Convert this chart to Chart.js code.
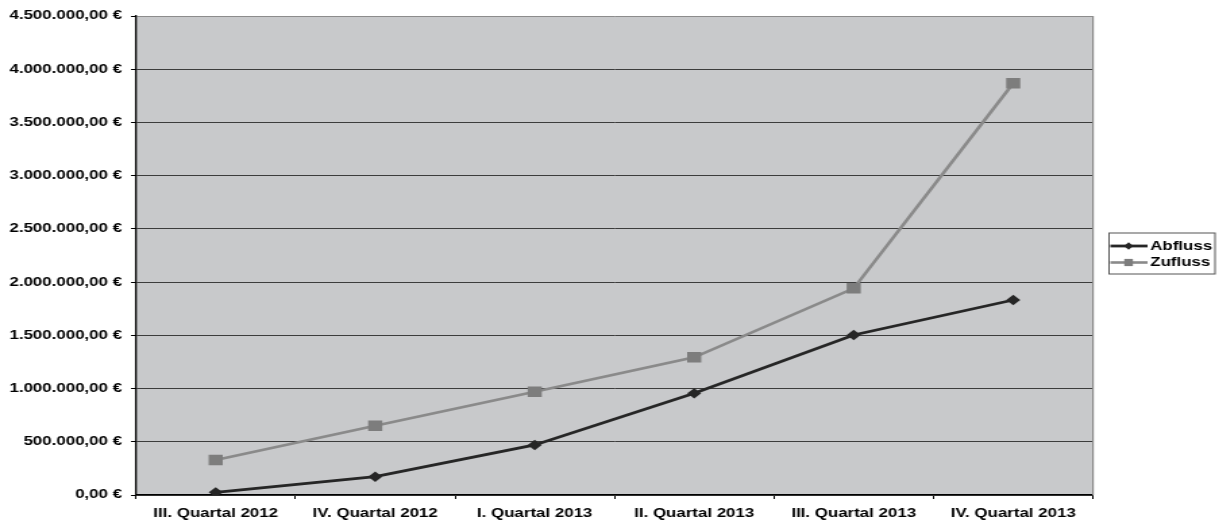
<!DOCTYPE html>
<html>
<head>
<meta charset="utf-8">
<script src="https://cdn.jsdelivr.net/npm/chart.js@4.4.1/dist/chart.umd.min.js"></script>
<style>
  html, body { margin: 0; padding: 0; background: #fff; overflow: hidden; }
  /* the chart is laid out narrow and stretched sideways */
  #wrap { width: 906px; height: 524px; transform: scale(1.35, 1); transform-origin: 0 0; }
</style>
</head>
<body>
<div id="wrap"><canvas id="chart"></canvas></div>
<script>
const quartale = ['III. Quartal 2012', 'IV. Quartal 2012', 'I. Quartal 2013', 'II. Quartal 2013', 'III. Quartal 2013', 'IV. Quartal 2013'];
const abfluss = [25000, 172000, 470000, 955000, 1503000, 1832000];
const zufluss = [329000, 651000, 970000, 1294000, 1942000, 3868000];
const yMax = 4500000;
const yStep = 500000;

const schrift = '"Liberation Sans", Arial, sans-serif';

// 4500000 -> "4.500.000,00 €"
function euro(v) {
    const ganz = Math.round(v).toString().replace(/\B(?=(\d{3})+(?!\d))/g, '.');
    return ganz + ',00 €';
}

// grauer Hintergrund der Zeichenfläche + rechter Rand
const flaeche = {
    id: 'flaeche',
    beforeDraw(chart) {
        const { ctx, chartArea: a } = chart;
        ctx.save();
        ctx.fillStyle = '#c8c9cb';
        ctx.fillRect(a.left, a.top, a.right - a.left, a.bottom - a.top);
        ctx.restore();
    },
    beforeDatasetsDraw(chart) {
        const { ctx, chartArea: a } = chart;
        ctx.save();
        ctx.strokeStyle = '#8c8c8c';
        ctx.lineWidth = 1.2;
        ctx.beginPath();
        ctx.moveTo(a.right, a.top);
        ctx.lineTo(a.right, a.bottom);
        ctx.stroke();
        ctx.restore();
    }
};

// Legende mit Rahmen rechts neben dem Diagramm
const legende = {
    id: 'legende',
    afterDraw(chart) {
        const ctx = chart.ctx;
        const x0 = 821.5, y0 = 233, w = 78.5, h = 41;
        ctx.save();
        ctx.strokeStyle = '#555';
        ctx.lineWidth = 1;
        ctx.strokeRect(x0, y0, w, h);
        ctx.font = 'bold 12.5px ' + schrift;
        ctx.textBaseline = 'middle';
        chart.data.datasets.forEach((ds, i) => {
            const y = y0 + 13 + i * 16.5;
            const mx = x0 + 14.5;
            ctx.strokeStyle = ds.borderColor;
            ctx.lineWidth = ds.borderWidth;
            ctx.beginPath();
            ctx.moveTo(x0 + 1, y);
            ctx.lineTo(x0 + 28.5, y);
            ctx.stroke();
            ctx.fillStyle = ds.pointBackgroundColor;
            ctx.beginPath();
            if (ds.pointStyle === 'rect') {
                ctx.rect(mx - 3.2, y - 3.6, 6.4, 7.2);
            } else {
                ctx.moveTo(mx, y - 3.8);
                ctx.lineTo(mx + 3.4, y);
                ctx.lineTo(mx, y + 3.8);
                ctx.lineTo(mx - 3.4, y);
                ctx.closePath();
            }
            ctx.fill();
            ctx.fillStyle = '#000';
            ctx.fillText(ds.label, x0 + 30.5, y + 0.5);
        });
        ctx.restore();
    }
};

new Chart(document.getElementById('chart'), {
    type: 'line',
    data: {
        labels: quartale,
        datasets: [
            {
                label: 'Abfluss',
                data: abfluss,
                borderColor: '#262626',
                backgroundColor: '#262626',
                pointBackgroundColor: '#262626',
                pointBorderWidth: 0,
                borderWidth: 2.8,
                pointStyle: 'rectRot',
                pointRadius: 5.2,
                tension: 0
            },
            {
                label: 'Zufluss',
                data: zufluss,
                borderColor: '#8a8a8a',
                backgroundColor: '#7d7d7d',
                pointBackgroundColor: '#7d7d7d',
                pointBorderWidth: 0,
                borderWidth: 2.6,
                pointStyle: 'rect',
                pointRadius: 7.4,
                tension: 0
            }
        ]
    },
    options: {
        responsive: true,
        maintainAspectRatio: false,
        animation: false,
        layout: { padding: { top: 16, right: 96.4, bottom: 0, left: 0 } },
        plugins: {
            legend: { display: false },
            tooltip: { enabled: false }
        },
        scales: {
            x: {
                offset: true,
                afterFit(scale) { scale.height = 29; },
                grid: {
                    drawOnChartArea: false,
                    drawTicks: true,
                    tickLength: 4,
                    tickColor: '#000',
                    offset: true
                },
                border: { display: true, color: '#000', width: 1.3 },
                ticks: {
                    color: '#000',
                    padding: 7,
                    maxRotation: 0,
                    font: { family: schrift, size: 12.5, weight: 'bold' }
                }
            },
            y: {
                min: 0,
                max: yMax,
                afterFit(scale) { scale.width = 100.7; },
                grid: {
                    color: ctx => (ctx.tick && ctx.tick.value === yMax) ? '#8c8c8c' : '#3c3c3c',
                    lineWidth: 1,
                    drawTicks: true,
                    tickLength: 3.7,
                    tickColor: '#000'
                },
                border: { display: true, color: '#000', width: 1.3 },
                ticks: {
                    stepSize: yStep,
                    color: '#000',
                    padding: 6.6,
                    font: { family: schrift, size: 12.5, weight: 'bold' },
                    callback: v => euro(v)
                }
            }
        }
    },
    plugins: [flaeche, legende]
});
</script>
</body>
</html>
